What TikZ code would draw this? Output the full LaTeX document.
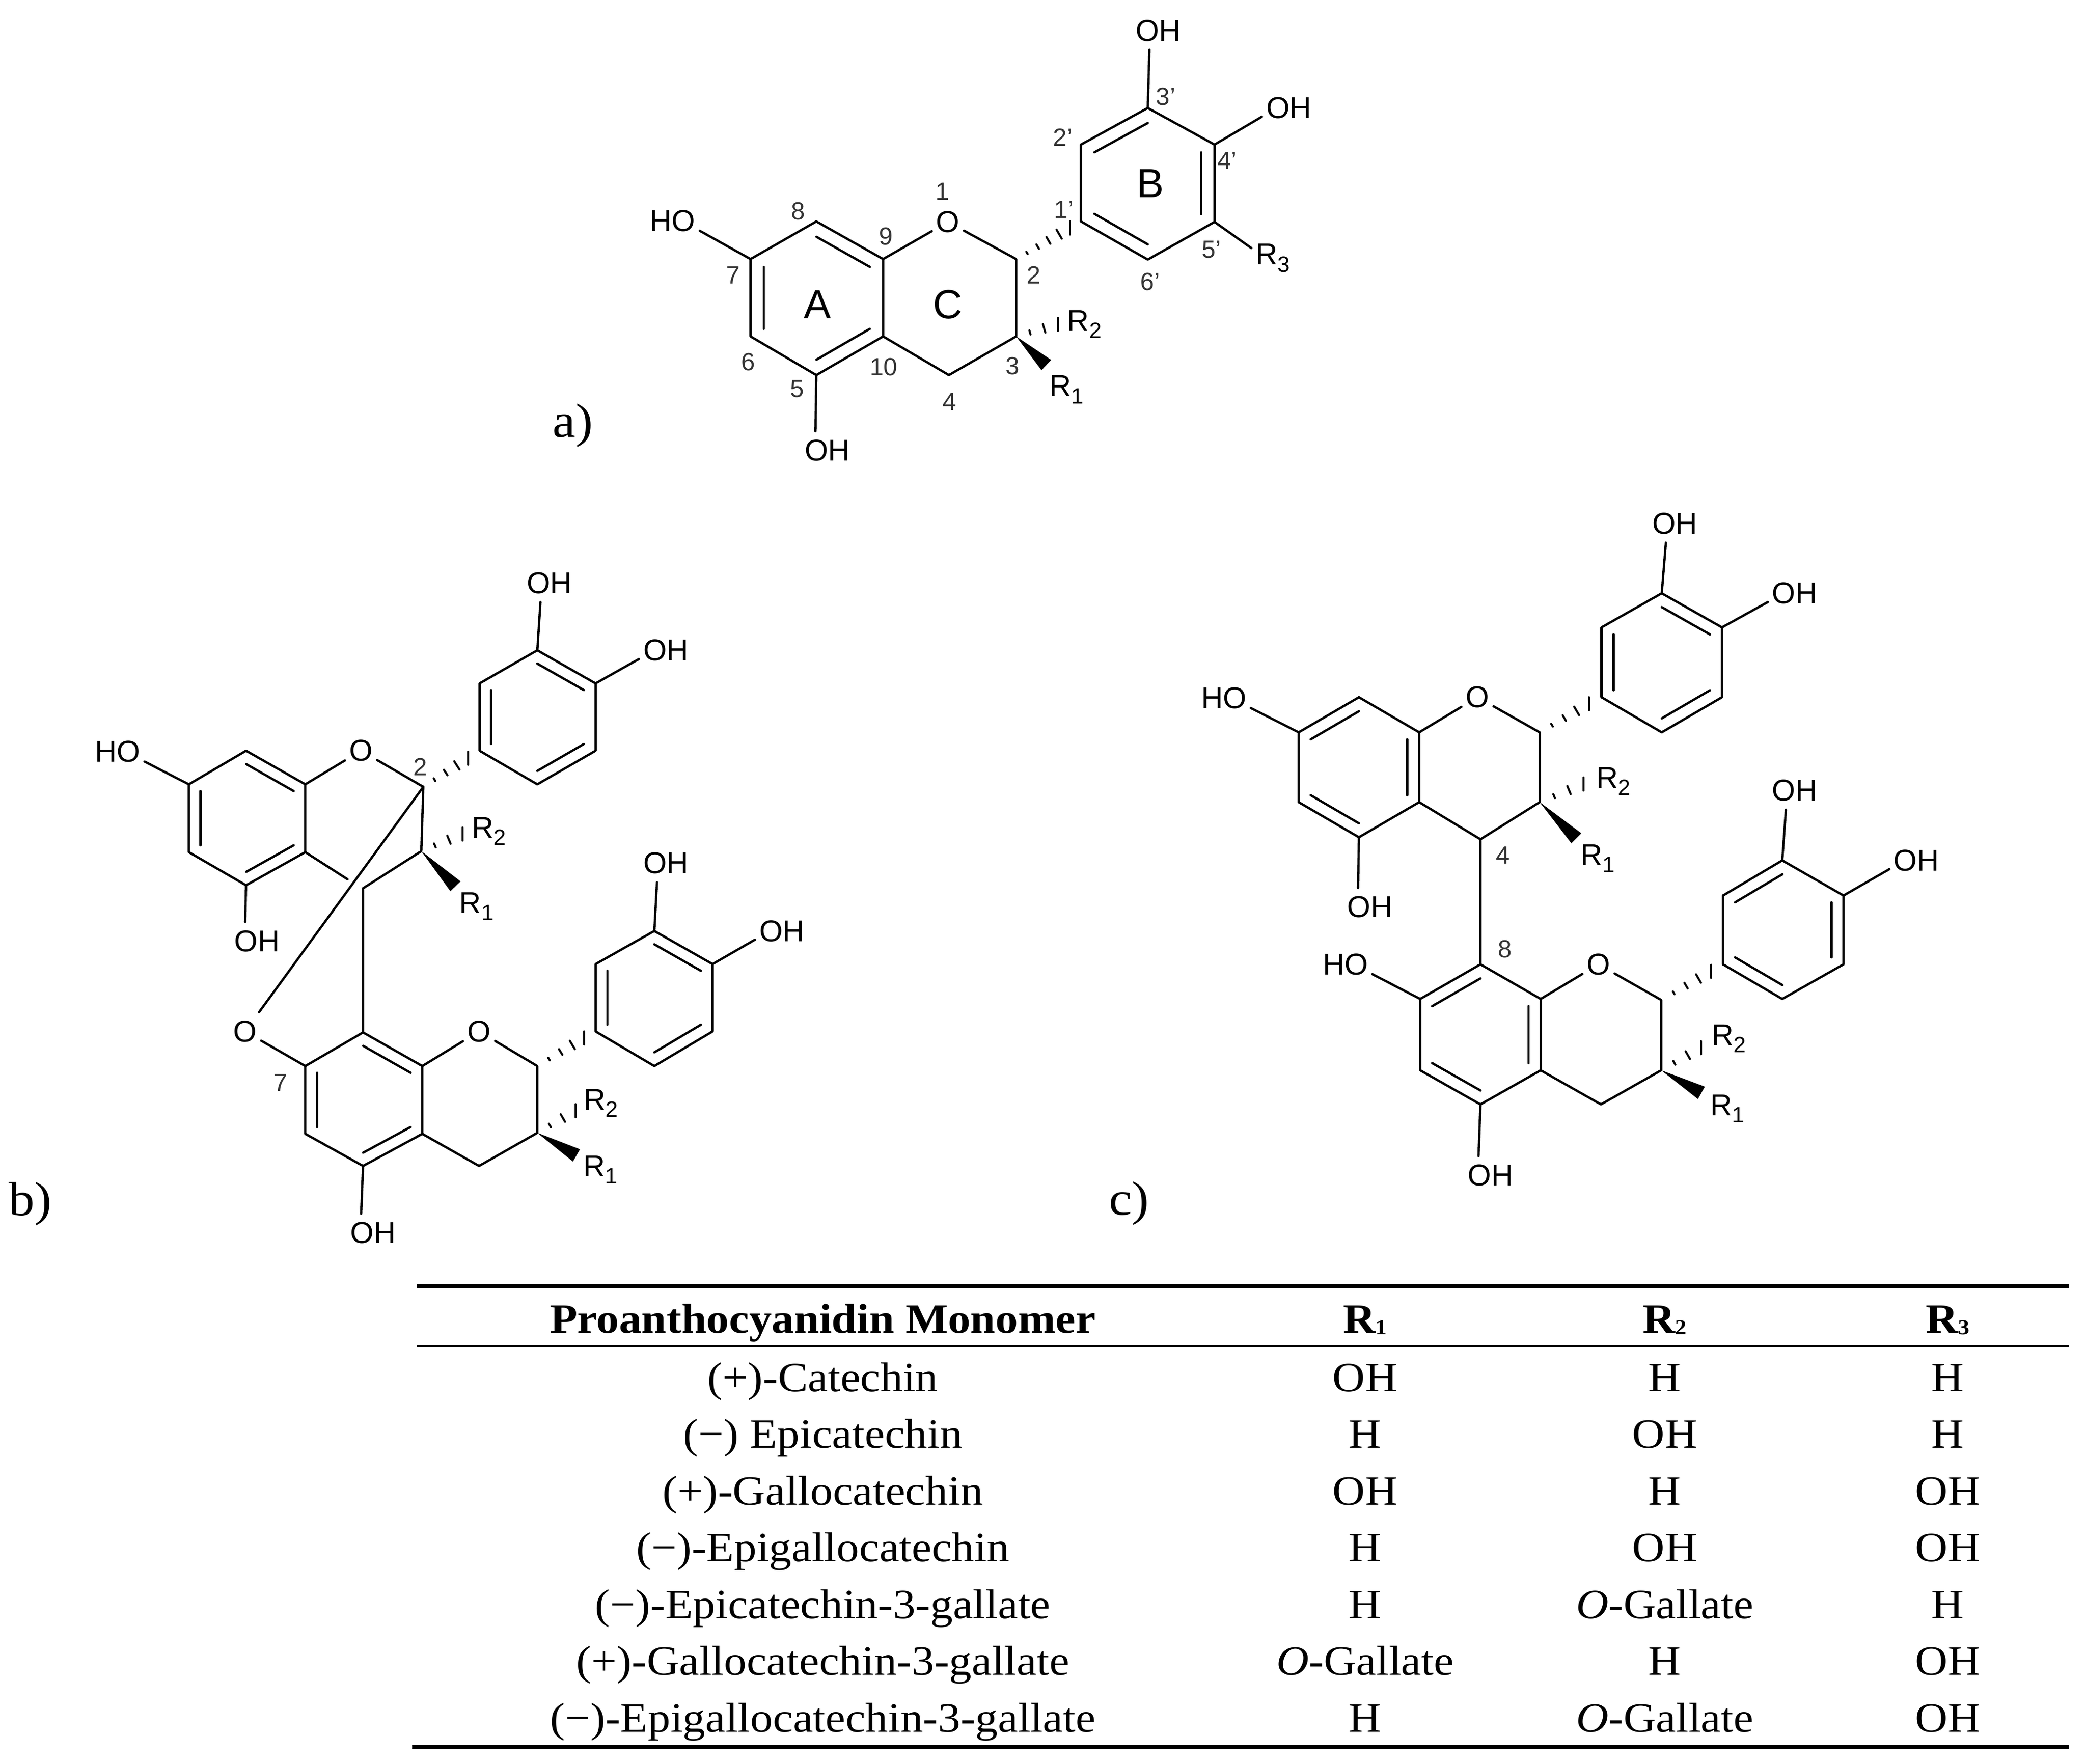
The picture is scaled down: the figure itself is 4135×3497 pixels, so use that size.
\documentclass[tikz,border=0pt]{standalone}
\usepackage{fontspec}
\setmainfont[FakeStretch=1.08]{Liberation Serif}
\setsansfont{Liberation Sans}
\usetikzlibrary{calc}

\newcommand{\dbl}[3]{\draw[bond] ($(#1)!0.2!(#3)$) -- ($(#2)!0.2!(#3)$);}
\newcommand{\hashbond}[3]{\foreach \hp in {#3} \draw[hashline] ($(#1)!\hp!(#2)!{\hp*0.13cm}!90:(#2)$) -- ($(#1)!\hp!(#2)!{-\hp*0.13cm}!90:(#2)$);}
\newcommand{\wedgebond}[2]{\fill (#1) -- ($(#2)!.14cm!90:(#1)$) -- ($(#2)!.14cm!-90:(#1)$) -- cycle;}
\newcommand{\rsubst}[1]{R\raisebox{-4pt}{\fontsize{12.5}{12.5}\selectfont #1}}
\newcommand{\rhead}[1]{R\raisebox{-1pt}{\fontsize{12}{12}\selectfont #1}}

\begin{document}
\begin{tikzpicture}[
    x=0.01cm, y=-0.01cm,
    bond/.style={line width=1.3pt, line cap=round, line join=round},
    hashline/.style={line width=1.15pt, line cap=round},
    atom/.style={font=\sffamily\fontsize{17}{20}\selectfont, inner xsep=0.08cm, inner ysep=0.16cm},
    rlabel/.style={font=\sffamily\fontsize{17}{20}\selectfont, inner xsep=0.08cm, inner ysep=0.05cm},
    pos label/.style={font=\sffamily\fontsize{14}{16}\selectfont, text=black!80, inner sep=0pt},
    ring label/.style={font=\sffamily\fontsize{23}{26}\selectfont, inner sep=0pt},
    panel label/.style={font=\fontsize{27}{32}\selectfont, inner sep=0pt},
    cell/.style={font=\fontsize{23.5}{28}\selectfont, anchor=base, inner sep=0pt},
    head cell/.style={cell, font=\fontsize{23.5}{28}\selectfont\bfseries},
    part a/.style={shift={(4.6,0)}, scale=0.9954},
    part b/.style={shift={(0,5.06)}, scale=0.9954},
    part c/.style={shift={(10.1,4.5)}, scale=0.9954}
]
    \useasboundingbox (0,0) rectangle (4135,3497);

    % Molecule a
    \begin{scope}[part a]
    \foreach \n/\x/\y in {a7/1490/516, a8/1621/441, a9/1754/516, a10/1754/670, a5/1621/747, a6/1490/670,
        a2/2019/516, a3/2019/670, a4/1885/747, a1p/2148/441, a2p/2148/288, a3p/2281/215, a4p/2414/288,
        a5p/2414/442, a6p/2281/517, aA/1622/594, aB/2281/365, ah2/2126/454, ah3/2102/646, aw3/2079/727}
        \coordinate (\n) at (\x,\y);
    \node[atom] (aO) at (1883,442) {O};
    \node[atom] (aoh1) at (2302,61) {OH};
    \node[atom] (aoh2) at (2562,215) {OH};
    \node[atom] (aho) at (1335,440) {HO};
    \node[atom] (aoh3) at (1643,897) {OH};
    \node[rlabel] (ar3) at (2530,514) {\rsubst{3}};
    \node[rlabel] (ar2) at (2155,646) {\rsubst{2}};
    \node[rlabel] (ar1) at (2119,776) {\rsubst{1}};
    \foreach \t/\x/\y [count=\i] in {1/1872/381, 8/1585/420, 9/1760/471, 7/1455/548, 2/2054/548, 3/2012/729,
        4/1886/800, 5/1583/774, 6/1485/721, 10/1755/731, 1'/2114/417, 2'/2112/274, 3'/2317/192, 4'/2439/320,
        5'/2408/497, 6'/2286/561}
        \node[pos label] (anum\i) at (\x,\y) {\t};
    \node[ring label] (aringA) at (1623,606) {A};
    \node[ring label] (aringC) at (1883,606) {C};
    \node[ring label] (aringB) at (2286,365) {B};
    \node[panel label] (pa) at (1136,848) {a)};
    \end{scope}

    % Molecule b
    \begin{scope}[part b]
    \foreach \n/\x/\y in {b7/376/1557, b8/490/1490, b9/608/1557, b10/608/1692, b5/490/1758, b6/376/1692,
        b2/843/1562, b3/839/1690, b4/723/1764, bgap/692/1746, b1p/955/1490, b2p/955/1356, b3p/1070/1290,
        b4p/1186/1356, b5p/1186/1490, b6p/1070/1557, bA/492/1624, bB/1070/1423, bh2/932/1505, bh3/921/1656, bw3/907/1760,
        d8/723/2051, d7/608/2118, d6/608/2253, d5/723/2317, d10/841/2253, d9/841/2118, d2/1070/2118, d3/1070/2251,
        d4/954/2317, d1p/1186/2049, d2p/1186/1915, d3p/1303/1849, d4p/1419/1915, d5p/1419/2049, d6p/1303/2118,
        dA/724/2185, dB/1303/1982, dh2/1163/2062, dh3/1146/2207, dw3/1148/2296}
        \coordinate (\n) at (\x,\y);
    \node[atom] (bO) at (719,1490) {O};
    \node[atom] (boh1) at (1094,1156) {OH};
    \node[atom] (boh2) at (1326,1290) {OH};
    \node[atom] (bho) at (234,1492) {HO};
    \node[atom] (boh3) at (512,1869) {OH};
    \node[rlabel] (br2) at (974,1650) {\rsubst{2}};
    \node[rlabel] (br1) at (949,1800) {\rsubst{1}};
    \node[pos label] (bnum2) at (837,1522) {2};
    \node[atom] (dOx) at (488,2049) {O};
    \node[atom] (dO) at (954,2049) {O};
    \node[atom] (doh1) at (1326,1714) {OH};
    \node[atom] (doh2) at (1557,1849) {OH};
    \node[atom] (doh3) at (743,2450) {OH};
    \node[rlabel] (dr2) at (1197,2192) {\rsubst{2}};
    \node[rlabel] (dr1) at (1196,2325) {\rsubst{1}};
    \node[pos label] (dnum7) at (559,2151) {7};
    \node[panel label] (pb) at (60,2393) {b)};
    \end{scope}

    % Molecule c
    \begin{scope}[part c]
    \foreach \n/\x/\y in {c7/2576/1454, c8/2696/1384, c9/2816/1454, c10/2816/1593, c5/2696/1663, c6/2576/1593,
        c2/3056/1454, c3/3056/1593, c4/2938/1667, c1p/3179/1384, c2p/3179/1245, c3p/3299/1177, c4p/3419/1245,
        c5p/3419/1384, c6p/3299/1454, cA/2696/1524, cB/3299/1315, ch2/3154/1397, ch3/3143/1557, cw3/3129/1665,
        e8/2938/1916, e7/2818/1985, e6/2818/2127, e5/2938/2195, e10/3058/2127, e9/3058/1985, e2/3298/1987, e3/3298/2127,
        e4/3178/2195, e1p/3421/1916, e2p/3421/1779, e3p/3539/1709, e4p/3661/1779, e5p/3661/1916, e6p/3539/1985,
        eA/2938/2056, eB/3541/1847, eh2/3397/1930, eh3/3377/2082, ew3/3378/2172}
        \coordinate (\n) at (\x,\y);
    \node[atom] (cO) at (2932,1384) {O};
    \node[atom] (coh1) at (3325,1038) {OH};
    \node[atom] (coh2) at (3564,1177) {OH};
    \node[atom] (cho) at (2427,1386) {HO};
    \node[atom] (coh3) at (2718,1802) {OH};
    \node[rlabel] (cr2) at (3203,1552) {\rsubst{2}};
    \node[rlabel] (cr1) at (3172,1705) {\rsubst{1}};
    \node[pos label] (cnum4) at (2983,1699) {4};
    \node[atom] (eO) at (3173,1916) {O};
    \node[atom] (eoh1) at (3564,1570) {OH};
    \node[atom] (eoh2) at (3806,1709) {OH};
    \node[atom] (eho) at (2669,1916) {HO};
    \node[atom] (eoh3) at (2958,2336) {OH};
    \node[rlabel] (er2) at (3433,2064) {\rsubst{2}};
    \node[rlabel] (er1) at (3430,2204) {\rsubst{1}};
    \node[pos label] (enum8) at (2987,1886) {8};
    \node[panel label] (pc) at (2238,2392) {c)};
    \end{scope}

    % Bonds - a
    \draw[bond] (a7) -- (a8) -- (a9) -- (a10) -- (a5) -- (a6) -- cycle;
    \draw[bond] (a9) -- (aO) -- (a2) -- (a3) -- (a4) -- (a10);
    \draw[bond] (a1p) -- (a2p) -- (a3p) -- (a4p) -- (a5p) -- (a6p) -- cycle;
    \dbl{a8}{a9}{aA} \dbl{a7}{a6}{aA} \dbl{a5}{a10}{aA}
    \dbl{a2p}{a3p}{aB} \dbl{a4p}{a5p}{aB} \dbl{a6p}{a1p}{aB}
    \draw[bond] (a3p) -- (aoh1.-115);
    \draw[bond] (a4p) -- (aoh2.198);
    \draw[bond] (a7) -- (aho.-20);
    \draw[bond] (a5) -- (aoh3.122);
    \draw[bond] (a5p) -- (ar3.155);
    \hashbond{a2}{ah2}{.2,.4,.6,.8,1} \hashbond{a3}{ah3}{.33,.67,1} \wedgebond{a3}{aw3}

    % Bonds - b
    \draw[bond] (b7) -- (b8) -- (b9) -- (b10) -- (b5) -- (b6) -- cycle;
    \draw[bond] (b9) -- (bO) -- (b2) -- (b3) -- (b4) -- (d8);
    \draw[bond] (b10) -- (bgap);
    \draw[bond] (b1p) -- (b2p) -- (b3p) -- (b4p) -- (b5p) -- (b6p) -- cycle;
    \dbl{b8}{b9}{bA} \dbl{b7}{b6}{bA} \dbl{b5}{b10}{bA}
    \dbl{b3p}{b4p}{bB} \dbl{b2p}{b1p}{bB} \dbl{b6p}{b5p}{bB}
    \draw[bond] (b3p) -- (boh1.-115);
    \draw[bond] (b4p) -- (boh2.198);
    \draw[bond] (b7) -- (bho.-20);
    \draw[bond] (b5) -- (boh3.122);
    \hashbond{b2}{bh2}{.25,.5,.75,1} \hashbond{b3}{bh3}{.33,.67,1} \wedgebond{b3}{bw3}
    \draw[bond] (b2) -- (dOx);
    \draw[bond] (dOx) -- (d7);
    \draw[bond] (d8) -- (d7) -- (d6) -- (d5) -- (d10) -- (d9) -- cycle;
    \draw[bond] (d9) -- (dO) -- (d2) -- (d3) -- (d4) -- (d10);
    \draw[bond] (d1p) -- (d2p) -- (d3p) -- (d4p) -- (d5p) -- (d6p) -- cycle;
    \dbl{d8}{d9}{dA} \dbl{d7}{d6}{dA} \dbl{d5}{d10}{dA}
    \dbl{d3p}{d4p}{dB} \dbl{d2p}{d1p}{dB} \dbl{d6p}{d5p}{dB}
    \draw[bond] (d3p) -- (doh1.-115);
    \draw[bond] (d4p) -- (doh2.198);
    \draw[bond] (d5) -- (doh3.122);
    \hashbond{d2}{dh2}{.25,.5,.75,1} \hashbond{d3}{dh3}{.33,.67,1} \wedgebond{d3}{dw3}

    % Bonds - c
    \draw[bond] (c7) -- (c8) -- (c9) -- (c10) -- (c5) -- (c6) -- cycle;
    \draw[bond] (c9) -- (cO) -- (c2) -- (c3) -- (c4) -- (c10);
    \draw[bond] (c4) -- (e8);
    \draw[bond] (c1p) -- (c2p) -- (c3p) -- (c4p) -- (c5p) -- (c6p) -- cycle;
    \dbl{c7}{c8}{cA} \dbl{c9}{c10}{cA} \dbl{c5}{c6}{cA}
    \dbl{c3p}{c4p}{cB} \dbl{c2p}{c1p}{cB} \dbl{c6p}{c5p}{cB}
    \draw[bond] (c3p) -- (coh1.-115);
    \draw[bond] (c4p) -- (coh2.198);
    \draw[bond] (c7) -- (cho.-20);
    \draw[bond] (c5) -- (coh3.122);
    \hashbond{c2}{ch2}{.25,.5,.75,1} \hashbond{c3}{ch3}{.33,.67,1} \wedgebond{c3}{cw3}
    \draw[bond] (e8) -- (e7) -- (e6) -- (e5) -- (e10) -- (e9) -- cycle;
    \draw[bond] (e9) -- (eO) -- (e2) -- (e3) -- (e4) -- (e10);
    \draw[bond] (e1p) -- (e2p) -- (e3p) -- (e4p) -- (e5p) -- (e6p) -- cycle;
    \dbl{e8}{e7}{eA} \dbl{e9}{e10}{eA} \dbl{e5}{e6}{eA}
    \dbl{e3p}{e2p}{eB} \dbl{e4p}{e5p}{eB} \dbl{e1p}{e6p}{eB}
    \draw[bond] (e3p) -- (eoh1.-115);
    \draw[bond] (e4p) -- (eoh2.198);
    \draw[bond] (e7) -- (eho.-20);
    \draw[bond] (e5) -- (eoh3.122);
    \hashbond{e2}{eh2}{.25,.5,.75,1} \hashbond{e3}{eh3}{.33,.67,1} \wedgebond{e3}{ew3}

    % Table
    \coordinate (rule1l) at (826,2550);
    \coordinate (rule1r) at (4101,2550);
    \coordinate (rule2l) at (826,2669);
    \coordinate (rule2r) at (4101,2669);
    \coordinate (rule3l) at (817,3463);
    \coordinate (rule3r) at (4101,3463);
    \draw[line width=2.2pt] (rule1l) -- (rule1r);
    \draw[line width=1.25pt] (rule2l) -- (rule2r);
    \draw[line width=2.4pt] (rule3l) -- (rule3r);
    \node[head cell] (hname) at (1631,2642) {Proanthocyanidin Monomer};
    \node[head cell] (hr1) at (2706,2642) {\rhead{1}};
    \node[head cell] (hr2) at (3300,2642) {\rhead{2}};
    \node[head cell] (hr3) at (3861,2642) {\rhead{3}};
    \foreach \i/\mono/\ra/\rb/\rc [evaluate=\i as \y using 2758+(\i-1)*112.5] in {
        1/{(+)-Catechin}/OH/H/H,
        2/{(−) Epicatechin}/H/OH/H,
        3/{(+)-Gallocatechin}/OH/H/OH,
        4/{(−)-Epigallocatechin}/H/OH/OH,
        5/{(−)-Epicatechin-3-gallate}/H/{\textit{O}-Gallate}/H,
        6/{(+)-Gallocatechin-3-gallate}/{\textit{O}-Gallate}/H/OH,
        7/{(−)-Epigallocatechin-3-gallate}/H/{\textit{O}-Gallate}/OH} {
        \node[cell] (name\i) at (1631,\y) {\mono};
        \node[cell] (ra\i) at (2706,\y) {\ra};
        \node[cell] (rb\i) at (3300,\y) {\rb};
        \node[cell] (rc\i) at (3861,\y) {\rc};
    }
\end{tikzpicture}
\end{document}
